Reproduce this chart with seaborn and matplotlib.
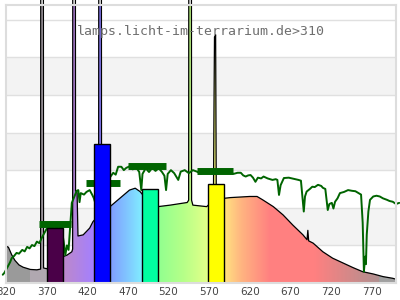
import numpy as np
import matplotlib
matplotlib.use("Agg")
import matplotlib.pyplot as plt
import seaborn as sns
from matplotlib.colors import LinearSegmentedColormap

# ---------------- data ----------------
lamp_nm = [320, 323, 327, 331, 336, 341, 350, 358, 362.6, 362.8, 366.0, 366.2, 370, 380, 388,
           390, 395, 401, 402.0, 402.2, 405.4, 405.6, 407.5, 408.6, 415, 423, 427, 432,
           434.0, 434.2, 437.4, 437.6, 448, 460, 472, 479, 485, 490, 500, 507, 522, 543,
           544.8, 545.0, 548.2, 548.4, 550, 567, 575.3, 576.0, 576.6, 578.0, 578.8, 588,
           596, 620, 629, 636, 649, 661, 673, 685.5, 690.5, 691.5, 692.5, 698, 710, 722,
           735, 747, 759, 772, 784, 796, 800]
lamp_val = [0.98, 0.95, 0.75, 0.60, 0.48, 0.42, 0.36, 0.35, 0.37, 9.0, 9.0, 0.40, 0.38, 0.50, 0.65,
            0.70, 0.74, 0.83, 0.90, 9.0, 9.0, 2.45, 2.40, 1.25, 1.28, 1.46, 1.63, 1.75,
            1.85, 9.0, 9.0, 1.90, 2.03, 2.25, 2.47, 2.52, 2.43, 2.30, 2.10, 2.03, 2.07, 2.14,
            2.20, 9.0, 9.0, 2.20, 2.07, 2.03, 2.20, 4.70, 6.54, 6.60, 2.30, 2.25,
            2.27, 2.30, 2.30, 2.21, 2.03, 1.81, 1.54, 1.28, 1.15, 1.40, 1.12, 1.06, 0.83, 0.66,
            0.53, 0.41, 0.30, 0.24, 0.17, 0.125, 0.10]

sun_nm = [316, 318, 322, 325, 327, 330, 333, 336, 340, 343, 346, 349, 352, 355, 358, 361,
          364, 368, 372, 376, 380, 384, 388, 391, 393, 395, 397, 399, 401, 405, 407, 409,
          410.5, 412, 416, 419, 423, 426, 428, 431, 434, 440, 446, 452, 455, 458, 462, 465,
          468, 472, 476, 480, 484, 486.5, 488, 492, 496, 500, 504, 508, 512, 515, 517, 519,
          523, 527, 532, 535, 540, 545, 550, 555, 560, 565, 570, 575, 580, 585, 590, 596,
          600, 605, 609, 612, 615, 618, 621, 624, 627, 630, 634, 637, 642, 648, 652, 654,
          656, 658, 662, 668, 674, 680, 683, 686.5, 688, 690, 694, 697, 700, 704, 708, 710,
          713, 716, 718, 721, 723, 725, 728, 731, 736, 741, 746, 750, 754, 757, 759, 760.5,
          762, 763, 764, 766, 768, 772, 776, 780, 784, 789, 792, 796, 800, 804]
sun_val = [0.22, 0.27, 0.43, 0.55, 0.66, 0.72, 0.80, 0.78, 0.88, 0.84, 0.96, 0.92, 1.01, 0.98, 1.10, 1.06,
           1.20, 1.36, 1.52, 1.45, 1.55, 1.42, 1.50, 1.10, 0.74, 1.00, 0.88, 1.50, 2.13, 2.34, 2.45, 2.47,
           2.15, 2.39, 2.35, 2.42, 2.47, 2.35, 2.26, 2.05, 2.40, 2.60, 2.75, 2.93, 2.88, 3.09, 3.09, 3.00,
           3.06, 3.10, 3.02, 3.08, 2.95, 2.47, 2.90, 3.05, 2.95, 3.06, 2.98, 3.05, 2.95, 2.85, 2.47, 2.90,
           3.00, 2.92, 2.74, 2.96, 3.00, 2.92, 3.00, 2.96, 2.90, 2.97, 2.92, 2.98, 2.93, 2.97, 2.95, 2.96,
           2.90, 2.93, 2.93, 2.86, 2.83, 2.86, 2.87, 2.80, 2.69, 2.80, 2.78, 2.83, 2.78, 2.74, 2.76, 2.74,
           2.34, 2.60, 2.79, 2.80, 2.77, 2.74, 2.72, 1.90, 2.30, 2.43, 2.50, 2.56, 2.55, 2.61, 2.58, 2.53,
           2.50, 1.94, 2.10, 2.13, 1.98, 2.16, 2.25, 2.39, 2.42, 2.47, 2.45, 2.44, 2.39, 2.35, 1.60, 0.30,
           0.70, 0.50, 1.28, 1.90, 2.21, 2.30, 2.32, 2.30, 2.25, 2.21, 2.18, 2.16, 2.10, 2.13]

seg_start = [360, 418, 470, 555]
seg_end = [400, 460, 517, 599]
seg_val = [1.56, 2.67, 3.10, 2.98]

bar_center = [380, 438, 497, 578]
bar_height = [1.46, 3.70, 2.49, 2.62]
bar_colors = ['#4a0048', '#0000ff', '#00ffa0', '#ffff00']

tick_vals = [320, 370, 420, 470, 520, 570, 620, 670, 720, 770]
tick_labels = [str(t) for t in tick_vals]

grad_nm = [320, 349.9, 350, 369.9, 370, 392, 428, 440, 450, 470, 487, 492, 507, 540,
           568, 578, 590, 610, 645, 700, 779, 780, 800]
grad_col = ['#9a9a9a', '#9a9a9a', '#b0a8b0', '#b0a8b0', '#c090c8', '#bc88cc', '#a480ff',
            '#8080ff', '#80a0ff', '#80c8ff', '#80ecff', '#80ffd0', '#90ff90', '#b8ff88',
            '#e4ff88', '#ffff80', '#ffe080', '#ffb480', '#ff8080', '#ff8080', '#b09090',
            '#a0a0a0', '#a0a0a0']

title = "lamps.licht-im-terrarium.de>310"

# ---------------- figure ----------------
sns.set_style("white")
plt.rcParams['font.family'] = ['DejaVu Sans']

XMIN, XMAX, YTOP = 320, 800, 7.39
fig = plt.figure(figsize=(4, 3), dpi=100)
ax = fig.add_axes([6 / 400, 17 / 300, 390 / 400, 278 / 300])

for lo in (1, 3, 5):
    ax.axhspan(lo, lo + 1, color='#f3f3f3', lw=0, zorder=0)
for g in range(1, 8):
    ax.axhline(g, color='#e0e0e0', lw=1, zorder=0.5)

pos = [(w - XMIN) / (XMAX - XMIN) for w in grad_nm]
cmap = LinearSegmentedColormap.from_list('spec', list(zip(pos, grad_col)), N=1024)
grad = np.linspace(0, 1, 2401).reshape(1, -1)
im = ax.imshow(grad, extent=[XMIN, XMAX, 0, YTOP], aspect='auto', cmap=cmap,
               interpolation='nearest', zorder=1)
poly = ax.fill_between(lamp_nm, lamp_val, 0, color='none', lw=0)
im.set_clip_path(poly.get_paths()[0], transform=ax.transData)

sns.lineplot(x=lamp_nm, y=lamp_val, color='black', lw=0.9, estimator=None, sort=False,
             ax=ax, zorder=3, clip_on=False)
sns.lineplot(x=sun_nm, y=sun_val, color='#006400', lw=1.4, estimator=None, sort=False,
             ax=ax, zorder=4, clip_on=False)
ax.hlines(seg_val, seg_start, seg_end, color='#006400', lw=5, zorder=5)
ax.bar(bar_center, bar_height, width=20, color=bar_colors, edgecolor='black', lw=1, zorder=6)

ax.set_xlim(XMIN, XMAX)
ax.set_ylim(0, YTOP)
ax.set_xticks(tick_vals)
ax.set_xticklabels(tick_labels)
ax.tick_params(axis='x', length=0, pad=3, labelsize=7.5, labelcolor='#444444')
ax.tick_params(axis='y', left=False, labelleft=False)
ax.set_xlabel('')
ax.set_ylabel('')
for s in ax.spines.values():
    s.set_color('#dddddd')
    s.set_linewidth(1.5)
    s.set_zorder(7)

fig.text(77 / 400, 1 - 32 / 300, title, family='DejaVu Sans Mono', fontsize=9.5,
         color='#6f6f6f', va='center', ha='left')

fig.savefig('out.png', dpi=100)
